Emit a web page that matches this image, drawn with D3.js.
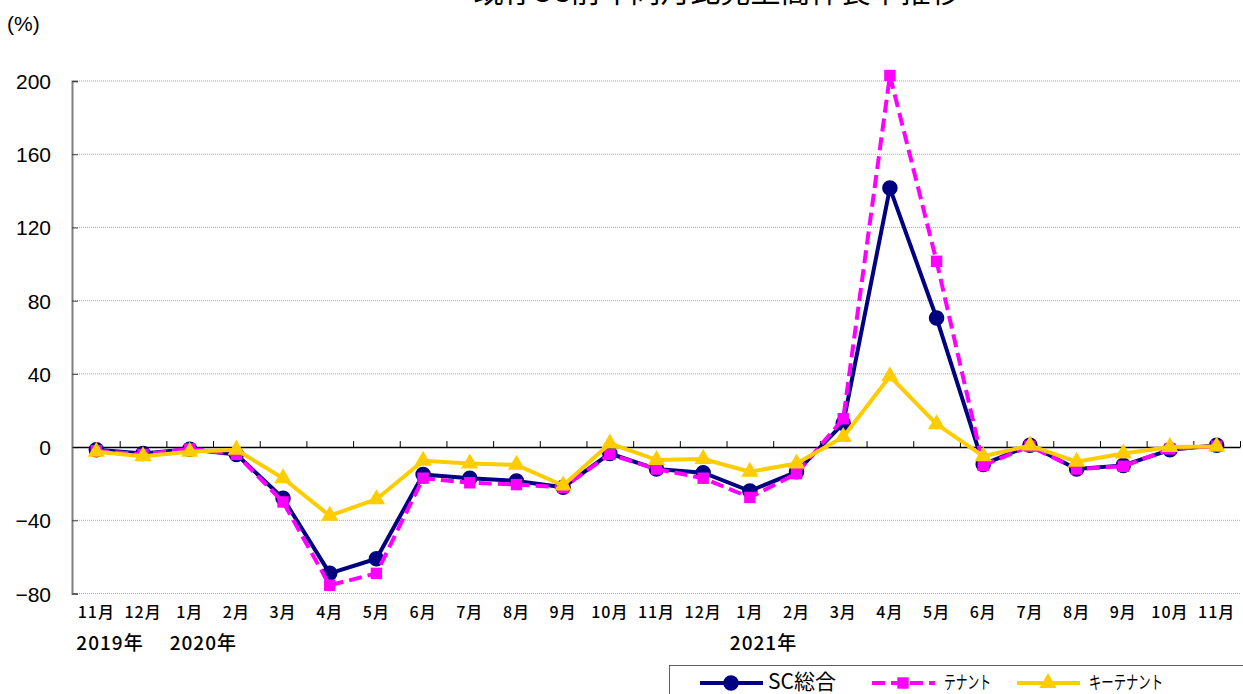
<!DOCTYPE html>
<html>
<head>
<meta charset="utf-8">
<script src="https://cdn.jsdelivr.net/npm/d3@7"></script>
<style>
  html, body { margin: 0; padding: 0; background: #fff; overflow: hidden; }
  svg { display: block; }
</style>
</head>
<body>
<div id="chart"></div>
<script>
// 既存SC 前年同月比 売上高伸長率

var months = ['11月','12月','1月','2月','3月','4月','5月','6月','7月','8月','9月','10月','11月','12月',
              '1月','2月','3月','4月','5月','6月','7月','8月','9月','10月','11月'];
var yearIdx = [0, 2, 14];
var yearNames = ['2019年', '2020年', '2021年'];

var scTotal   = [-1.5, -3.5, -1.2, -4, -28, -69, -61, -15, -17, -18.5, -22, -3.5, -12, -14, -24, -13.5,
                 13, 141.5, 70.5, -9.5, 1, -12, -10, -1.5, 1];
var tenant    = [-2, -4, -1, -4, -30, -75.5, -69, -17, -19.5, -20.5, -22, -4, -12, -17, -27.5, -14.5,
                 15.5, 203, 101.5, -10, 0.5, -12, -10.5, -1, 0.5];
var keyTenant = [-2.5, -5, -2.5, -1.5, -17, -37.5, -28.5, -7.5, -9, -9.7, -21, 2, -7, -6.5, -13.5, -9,
                 5.5, 38.7, 12.5, -5, 0.8, -8, -3.5, 0, 0.3];

var yTicks = [-80, -40, 0, 40, 80, 120, 160, 200];
var seriesNames = ['SC総合', 'テナント', 'キーテナント'];

var width = 1243, height = 694;
var jp = '"Noto Sans CJK JP", "Noto Sans", sans-serif';
var num = '"Liberation Sans", Arial, sans-serif';

var svg = d3.select('#chart').append('svg')
    .attr('width', width)
    .attr('height', height);

var x = d3.scalePoint()
    .domain(d3.range(months.length))
    .range([73, 1240])
    .padding(0.5);

var y = d3.scaleLinear()
    .domain([-80, 200])
    .range([593.5, 81]);

// title (cut at the top in the original)
svg.append('text')
    .attr('x', 717)
    .attr('y', 2)
    .attr('text-anchor', 'middle')
    .style('font-family', jp)
    .style('font-size', '30px')
    .attr('fill', '#000')
    .text('既存SC前年同月比売上高伸長率推移');

svg.append('text')
    .attr('x', 7)
    .attr('y', 31)
    .style('font-family', num)
    .style('font-size', '21px')
    .attr('fill', '#000')
    .text('(%)');

// grid lines
svg.append('g').selectAll('line')
    .data(yTicks.filter(function(d) { return d !== 0; }))
    .enter().append('line')
    .attr('x1', 73).attr('x2', 1240)
    .attr('y1', function(d) { return y(d); })
    .attr('y2', function(d) { return y(d); })
    .attr('stroke', '#a6a6a6')
    .attr('stroke-width', 1)
    .attr('stroke-dasharray', '1,1');

// y axis
var yAxis = d3.axisRight(y).tickValues(yTicks).tickSize(6).tickFormat('');
var yg = svg.append('g').attr('transform', 'translate(72,0)').call(yAxis);
yg.select('.domain').attr('stroke', '#808080').attr('stroke-width', 2);
yg.selectAll('.tick line').attr('stroke', '#404040');

svg.append('g').selectAll('text')
    .data(yTicks)
    .enter().append('text')
    .attr('x', 51)
    .attr('y', function(d) { return y(d) + 8; })
    .attr('text-anchor', 'end')
    .style('font-family', num)
    .style('font-size', '21px')
    .attr('fill', '#000')
    .text(function(d) { return d < 0 ? '\u2212' + Math.abs(d) : d; });

// zero line with ticks pointing up at category boundaries
var xAxis = d3.axisTop(d3.scaleLinear().domain([0, months.length]).range([73, 1240]))
    .tickValues(d3.range(1, months.length + 1))
    .tickSize(6)
    .tickSizeOuter(0)
    .tickFormat('');
var xg = svg.append('g').attr('transform', 'translate(0,' + y(0) + ')').call(xAxis);
xg.select('.domain').attr('stroke', '#000').attr('stroke-width', 1.5);
xg.selectAll('.tick line').attr('stroke', '#000');

// month labels
svg.append('g').selectAll('text')
    .data(months)
    .enter().append('text')
    .attr('x', function(d, i) { return x(i); })
    .attr('y', 618)
    .attr('text-anchor', 'middle')
    .style('font-family', jp)
    .style('font-size', '16px')
    .style('font-weight', 500)
    .style('letter-spacing', '1px')
    .attr('fill', '#000')
    .text(function(d) { return d; });

svg.append('g').selectAll('text')
    .data(yearNames)
    .enter().append('text')
    .attr('x', function(d, i) { return x(yearIdx[i]) - 20; })
    .attr('y', 650)
    .style('font-family', jp)
    .style('font-size', '19px')
    .style('font-weight', 500)
    .style('letter-spacing', '1px')
    .attr('fill', '#000')
    .text(function(d) { return d; });

// series
var line = d3.line()
    .x(function(d, i) { return x(i); })
    .y(function(d) { return y(d); });

var series = [
    { name: seriesNames[0], values: scTotal, color: '#000080', dash: null, symbol: d3.symbolCircle, size: 190 },
    { name: seriesNames[1], values: tenant, color: '#ff00ff', dash: '13,6', symbol: d3.symbolSquare, size: 130 },
    { name: seriesNames[2], values: keyTenant, color: '#ffcc00', dash: null, symbol: d3.symbolTriangle, size: 130 }
];

series.forEach(function(s) {
    var g = svg.append('g');
    g.append('path')
        .datum(s.values)
        .attr('d', line)
        .attr('fill', 'none')
        .attr('stroke', s.color)
        .attr('stroke-width', 4)
        .attr('stroke-dasharray', s.dash)
        .attr('stroke-linejoin', 'round');
    g.selectAll('path.mark')
        .data(s.values)
        .enter().append('path')
        .attr('class', 'mark')
        .attr('d', d3.symbol().type(s.symbol).size(s.size))
        .attr('transform', function(d, i) { return 'translate(' + x(i) + ',' + y(d) + ')'; })
        .attr('fill', s.color);
});

// legend
var legend = svg.append('g');
legend.append('rect')
    .attr('x', 669.5).attr('y', 665.5)
    .attr('width', 600).attr('height', 60)
    .attr('fill', '#fff')
    .attr('stroke', '#606060')
    .attr('stroke-width', 1);

var legX = [700, 872, 1017];
var textW = [null, 47, 74];
series.forEach(function(s, i) {
    var lx = legX[i], ly = 683;
    legend.append('line')
        .attr('x1', lx).attr('x2', lx + 63)
        .attr('y1', ly).attr('y2', ly)
        .attr('stroke', s.color)
        .attr('stroke-width', 4)
        .attr('stroke-dasharray', s.dash);
    legend.append('path')
        .attr('d', d3.symbol().type(s.symbol).size(s.size)())
        .attr('transform', 'translate(' + (lx + 31) + ',' + ly + ')')
        .attr('fill', s.color);
    var t = legend.append('text')
        .attr('x', lx + (i === 0 ? 68 : 72))
        .attr('y', ly + 6)
        .style('font-family', jp)
        .style('font-size', i === 0 ? '21px' : '18px')
        .attr('fill', '#000')
        .text(s.name);
    if (textW[i]) {
        t.attr('textLength', textW[i]).attr('lengthAdjust', 'spacingAndGlyphs');
    }
});
</script>
</body>
</html>
